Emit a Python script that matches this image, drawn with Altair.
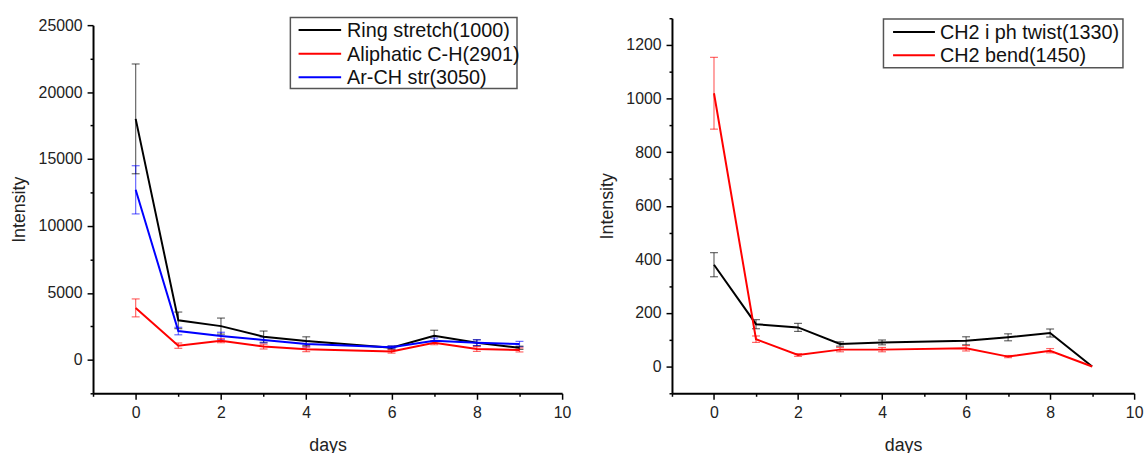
import altair as alt
import pandas as pd

FONT = "Liberation Sans"

days = [0, 1, 2, 3, 4, 6, 7, 8, 9]

left_names = ["Ring stretch(1000)", "Aliphatic C-H(2901)", "Ar-CH str(3050)"]
left_colors = ["#000000", "#ff0000", "#0000ff"]
ring = [18000, 2950, 2520, 1730, 1400, 910, 1790, 1280, 900]
ring_err = [4100, 620, 600, 420, 320, 120, 420, 220, 120]
aliph = [3880, 1060, 1430, 990, 790, 620, 1280, 810, 740]
aliph_err = [670, 200, 150, 180, 180, 120, 150, 180, 150]
arch = [12700, 2150, 1780, 1480, 1190, 940, 1430, 1280, 1180]
arch_err = [1800, 280, 280, 220, 220, 100, 200, 220, 200]

right_names = ["CH2 i ph twist(1330)", "CH2 bend(1450)"]
right_colors = ["#000000", "#ff0000"]
twist = [380, 158, 146, 84, 90, 96, 109, 125, 0]
twist_err = [45, 17, 15, 8, 9, 15, 13, 15, 0]
bend = [1020, 102, 43, 63, 63, 68, 37, 59, 0]
bend_err = [134, 12, 5, 8, 8, 10, 4, 8, 0]

x_ticks = list(range(-1, 11))
left_y_ticks = list(range(-2500, 25001, 2500))
right_y_ticks = list(range(-100, 1301, 100))


def frame(names, values, errs):
    rows = []
    for n, v, e in zip(names, values, errs):
        for d, vi, ei in zip(days, v, e):
            rows.append({"day": d, "value": vi, "lo": vi - ei, "hi": vi + ei,
                         "series": n})
    return pd.DataFrame(rows)


def make_axis(values, major_test, title, title_pad):
    return alt.Axis(
        values=values, format="d",
        labelExpr=f"({major_test}) ? datum.label : ''",
        tickSize={"condition": {"test": f"!({major_test})", "value": 3}, "value": 6},
        title=title, grid=False, domainColor="#000", domainWidth=2,
        tickColor="#000", tickWidth=1.5, labelFont=FONT, labelFontSize=16,
        labelColor="#222", titleFont=FONT, titleFontSize=18,
        titleFontWeight="normal", titleColor="#222", labelPadding=5,
        titlePadding=title_pad, labelFlush=False, labelOverlap=False,
    )


def panel(df, names, colors, ydom, yticks, ymajor, w, h, leg):
    xax = make_axis(x_ticks, "datum.value % 2 === 0", "days", 17)
    yax = make_axis(yticks, f"datum.value % {ymajor} === 0", "Intensity", 10)
    xs = alt.Scale(domain=[-1, 10], nice=False, zero=False)
    ys = alt.Scale(domain=ydom, nice=False, zero=False)
    col = alt.Color("series:N", scale=alt.Scale(domain=names, range=colors),
                    legend=None)
    X = alt.X("day:Q", scale=xs, axis=xax)
    base = alt.Chart(df)
    lines = base.mark_line(strokeWidth=2).encode(
        x=X, y=alt.Y("value:Q", scale=ys, axis=yax), color=col,
        order="day:Q")
    errd = base.transform_filter("datum.hi > datum.lo")
    rules = errd.mark_rule(strokeWidth=1.2, opacity=0.6).encode(
        x=X, y=alt.Y("lo:Q", scale=ys, axis=yax), y2="hi:Q", color=col)
    cap_lo = errd.mark_tick(orient="horizontal", size=8, thickness=1.2,
                            opacity=0.6).encode(
        x=X, y=alt.Y("lo:Q", scale=ys, axis=yax), color=col)
    cap_hi = errd.mark_tick(orient="horizontal", size=8, thickness=1.2,
                            opacity=0.6).encode(
        x=X, y=alt.Y("hi:Q", scale=ys, axis=yax), color=col)
    one = pd.DataFrame({"a": [0]})
    bx0, bx1, by0, by1, lx0, lx1, tx, rows = leg
    layers = [rules, cap_lo, cap_hi, lines]
    layers.append(alt.Chart(one).mark_rect(fillOpacity=0, fill="white",
                                           stroke="#555", strokeWidth=1.5).encode(
        x=alt.value(bx0), x2=alt.value(bx1), y=alt.value(by0), y2=alt.value(by1)))
    for name, c, ry in zip(names, colors, rows):
        layers.append(alt.Chart(one).mark_rule(strokeWidth=2, color=c).encode(
            x=alt.value(lx0), x2=alt.value(lx1), y=alt.value(ry)))
        layers.append(alt.Chart(one).mark_text(
            align="left", baseline="middle", font=FONT, fontSize=20,
            color="#111").encode(
            x=alt.value(tx), y=alt.value(ry + 1), text=alt.value(name)))
    return alt.layer(*layers).properties(width=w, height=h)


left_df = frame(left_names, [ring, aliph, arch], [ring_err, aliph_err, arch_err])
right_df = frame(right_names, [twist, bend], [twist_err, bend_err])

left = panel(left_df, left_names, left_colors, [-2500, 25000], left_y_ticks,
             5000, 474, 372,
             (199.4, 428.4, -7.7, 64, 207.7, 250.7, 256.7, [5, 29, 52.6]))
right = panel(right_df, right_names, right_colors, [-100, 1300], right_y_ticks,
              200, 467, 379,
              (213.7, 455.7, 0.7, 50, 223.4, 265.7, 270.7, [14, 37.3]))

spacer = alt.Chart(pd.DataFrame({"a": [0]})).mark_point(opacity=0).encode(
    x=alt.value(0), y=alt.value(0)).properties(width=474, height=7)

left_col = alt.vconcat(spacer, left, spacing=0, bounds="flush")

chart = alt.hconcat(left_col, right, spacing=27).properties(
    padding={"left": 10, "top": 8, "right": 5, "bottom": 5},
    background="white",
).configure_view(stroke=None)

chart.save("out.html", embed_options={"renderer": "svg", "actions": False})
